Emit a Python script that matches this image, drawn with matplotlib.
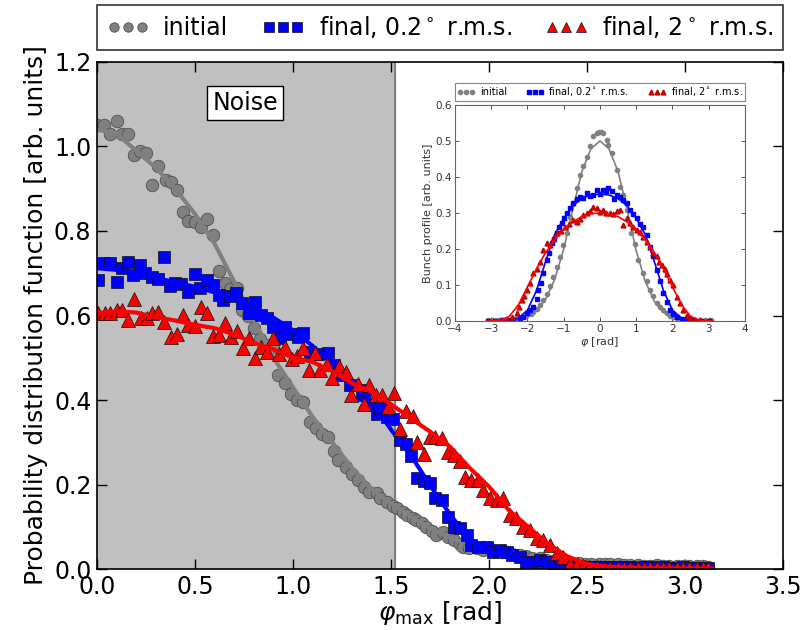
import matplotlib
matplotlib.use("Agg")
import matplotlib.pyplot as plt

# ---- main panel: distribution of phi_max ----
init_x = [0.0, 0.036, 0.066, 0.10, 0.126, 0.16, 0.19, 0.22, 0.25, 0.28, 0.31, 0.35, 0.376, 0.41,
          0.44, 0.465, 0.50, 0.53, 0.56, 0.59, 0.62, 0.653, 0.68, 0.713, 0.738, 0.77, 0.80, 0.83,
          0.865, 0.898, 0.925, 0.96, 0.99, 1.02, 1.05, 1.087, 1.12, 1.15, 1.18, 1.21, 1.23, 1.27,
          1.30, 1.33, 1.36, 1.39, 1.43, 1.444, 1.478, 1.51, 1.53, 1.56, 1.58, 1.61, 1.63, 1.66,
          1.68, 1.71, 1.73, 1.765, 1.79, 1.82, 1.85, 1.87, 1.90, 1.94, 1.97, 2.0, 2.03, 2.06,
          2.09, 2.12, 2.16, 2.19, 2.22, 2.26, 2.29, 2.32, 2.36, 2.39, 2.42, 2.46, 2.49, 2.52,
          2.56, 2.59, 2.62, 2.66, 2.69, 2.72, 2.76, 2.79, 2.82, 2.86, 2.89, 2.92, 2.96, 2.99,
          3.02, 3.06, 3.09, 3.12]
init_y = [1.05, 1.05, 1.03, 1.06, 1.03, 1.03, 0.98, 0.99, 0.985, 0.91, 0.955, 0.92, 0.917, 0.897,
          0.845, 0.824, 0.822, 0.81, 0.828, 0.79, 0.705, 0.677, 0.663, 0.665, 0.613, 0.60, 0.57,
          0.544, 0.53, 0.526, 0.46, 0.44, 0.415, 0.40, 0.396, 0.349, 0.333, 0.32, 0.313, 0.28,
          0.258, 0.242, 0.225, 0.21, 0.195, 0.183, 0.18, 0.168, 0.159, 0.15, 0.144, 0.135, 0.128,
          0.12, 0.116, 0.108, 0.10, 0.09, 0.08, 0.088, 0.075, 0.069, 0.06, 0.053, 0.05, 0.049,
          0.046, 0.049, 0.042, 0.04, 0.041, 0.036, 0.033, 0.03, 0.027, 0.025, 0.022, 0.02, 0.018,
          0.017, 0.015, 0.014, 0.013, 0.012, 0.013, 0.012, 0.011, 0.012, 0.01, 0.009, 0.01, 0.008,
          0.008, 0.009, 0.007, 0.007, 0.008, 0.006, 0.007, 0.006, 0.006, 0.005]

fin02_x = [0.007, 0.03, 0.066, 0.10, 0.126, 0.16, 0.185, 0.22, 0.245, 0.28, 0.31, 0.34, 0.37, 0.40,
           0.43, 0.465, 0.50, 0.525, 0.56, 0.59, 0.62, 0.645, 0.68, 0.71, 0.74, 0.777, 0.806, 0.835,
           0.866, 0.90, 0.934, 0.96, 0.99, 1.027, 1.05, 1.087, 1.13, 1.18, 1.21, 1.25, 1.29, 1.35,
           1.37, 1.39, 1.43, 1.444, 1.478, 1.51, 1.546, 1.575, 1.60, 1.635, 1.667, 1.70, 1.727,
           1.76, 1.79, 1.82, 1.85, 1.886, 1.91, 1.945, 1.99, 2.02, 2.056, 2.09, 2.12, 2.16, 2.19,
           2.226, 2.26, 2.29, 2.33, 2.36, 2.39, 2.42, 2.46, 2.49, 2.52, 2.56, 2.59, 2.62, 2.66,
           2.69, 2.72, 2.76, 2.79, 2.82, 2.86, 2.89, 2.92, 2.96, 2.99, 3.02, 3.06, 3.09, 3.12]
fin02_y = [0.684, 0.724, 0.724, 0.68, 0.712, 0.727, 0.696, 0.72, 0.70, 0.69, 0.686, 0.738, 0.67,
           0.677, 0.675, 0.656, 0.698, 0.665, 0.684, 0.672, 0.649, 0.637, 0.645, 0.653, 0.629, 0.607,
           0.633, 0.601, 0.593, 0.573, 0.547, 0.573, 0.556, 0.55, 0.558, 0.514, 0.51, 0.512, 0.483,
           0.459, 0.435, 0.412, 0.424, 0.388, 0.368, 0.38, 0.36, 0.355, 0.305, 0.297, 0.268, 0.216,
           0.209, 0.203, 0.167, 0.163, 0.124, 0.10, 0.096, 0.08, 0.057, 0.053, 0.053, 0.041, 0.045,
           0.041, 0.033, 0.029, 0.017, 0.017, 0.021, 0.017, 0.009, 0.013, 0.008, 0.006, 0.007,
           0.005, 0.005, 0.004, 0.005, 0.004, 0.004, 0.005, 0.004, 0.003, 0.004, 0.004, 0.003,
           0.004, 0.003, 0.003, 0.004, 0.003, 0.003, 0.003, 0.003]

fin2_x = [0.007, 0.04, 0.066, 0.10, 0.126, 0.16, 0.19, 0.224, 0.253, 0.28, 0.313, 0.343, 0.378,
          0.406, 0.437, 0.466, 0.50, 0.53, 0.56, 0.59, 0.622, 0.653, 0.684, 0.716, 0.746, 0.776,
          0.806, 0.837, 0.869, 0.90, 0.929, 0.96, 0.993, 1.02, 1.05, 1.08, 1.11, 1.14, 1.175, 1.20,
          1.236, 1.27, 1.296, 1.33, 1.36, 1.39, 1.424, 1.456, 1.486, 1.517, 1.546, 1.575, 1.61,
          1.634, 1.667, 1.70, 1.727, 1.761, 1.79, 1.82, 1.85, 1.88, 1.91, 1.945, 1.97, 2.005,
          2.04, 2.07, 2.107, 2.14, 2.175, 2.21, 2.243, 2.277, 2.31, 2.345, 2.38, 2.413, 2.447,
          2.48, 2.51, 2.55, 2.59, 2.62, 2.66, 2.69, 2.72, 2.76, 2.79, 2.82, 2.86, 2.89, 2.92,
          2.96, 2.99, 3.02, 3.06, 3.09, 3.12]
fin2_y = [0.605, 0.605, 0.607, 0.613, 0.612, 0.589, 0.638, 0.593, 0.595, 0.607, 0.608, 0.585, 0.55,
          0.557, 0.601, 0.577, 0.575, 0.619, 0.607, 0.551, 0.554, 0.583, 0.548, 0.564, 0.522, 0.546,
          0.50, 0.525, 0.514, 0.546, 0.51, 0.526, 0.497, 0.505, 0.522, 0.471, 0.512, 0.47, 0.486,
          0.451, 0.48, 0.467, 0.412, 0.439, 0.39, 0.435, 0.412, 0.412, 0.383, 0.416, 0.331, 0.375,
          0.361, 0.301, 0.272, 0.313, 0.313, 0.31, 0.278, 0.27, 0.256, 0.218, 0.211, 0.211, 0.187,
          0.167, 0.163, 0.167, 0.128, 0.12, 0.10, 0.092, 0.073, 0.069, 0.057, 0.037, 0.029, 0.013,
          0.013, 0.008, 0.005, 0.004, 0.003, 0.003, 0.002, 0.003, 0.002, 0.002, 0.003, 0.002,
          0.002, 0.002, 0.002, 0.002, 0.002, 0.002, 0.002, 0.002, 0.002]

fit_x = [0.0, 0.1, 0.2, 0.3, 0.4, 0.5, 0.6, 0.7, 0.8, 0.9, 1.0, 1.1, 1.2, 1.3, 1.4, 1.5, 1.6, 1.7,
         1.8, 1.9, 2.0, 2.1, 2.2, 2.3, 2.4, 2.5, 2.6, 2.8, 3.0, 3.14]
fit_init = [1.04, 1.03, 0.99, 0.95, 0.90, 0.84, 0.77, 0.68, 0.59, 0.50, 0.43, 0.36, 0.30, 0.24,
            0.19, 0.155, 0.125, 0.097, 0.075, 0.058, 0.046, 0.036, 0.028, 0.022, 0.017, 0.013,
            0.01, 0.007, 0.005, 0.004]
fit_02 = [0.712, 0.708, 0.70, 0.69, 0.678, 0.668, 0.655, 0.64, 0.62, 0.595, 0.565, 0.528, 0.487,
          0.447, 0.398, 0.33, 0.27, 0.198, 0.13, 0.07, 0.04, 0.028, 0.018, 0.009, 0.006, 0.004,
          0.003, 0.002, 0.001, 0.001]
fit_2 = [0.605, 0.61, 0.607, 0.596, 0.588, 0.578, 0.57, 0.555, 0.535, 0.52, 0.50, 0.49, 0.468,
         0.44, 0.42, 0.39, 0.357, 0.325, 0.29, 0.24, 0.195, 0.14, 0.10, 0.06, 0.03, 0.012, 0.005,
         0.002, 0.001, 0.001]

noise_edge = 1.52

# ---- inset: bunch profiles ----
in_init_x = [-3.1, -2.95, -2.8, -2.65, -2.5, -2.35, -2.2, -2.05, -1.9, -1.84, -1.75, -1.66, -1.56,
             -1.47, -1.38, -1.29, -1.195, -1.1, -1.01, -0.92, -0.83, -0.74, -0.64, -0.55, -0.46,
             -0.37, -0.28, -0.18, -0.09, -0.04, 0.04, 0.09, 0.185, 0.23, 0.32, 0.46, 0.55, 0.64,
             0.74, 0.87, 0.96, 1.06, 1.195, 1.29, 1.38, 1.47, 1.56, 1.66, 1.75, 1.84, 1.93, 2.02,
             2.12, 2.3, 2.45, 2.6, 2.75, 2.9, 3.05]
in_init_y = [0.002, 0.002, 0.003, 0.003, 0.004, 0.005, 0.008, 0.013, 0.02, 0.026, 0.032, 0.045,
             0.058, 0.076, 0.097, 0.122, 0.15, 0.178, 0.21, 0.245, 0.29, 0.325, 0.368, 0.405, 0.43,
             0.456, 0.485, 0.515, 0.522, 0.526, 0.524, 0.521, 0.503, 0.49, 0.466, 0.42, 0.373, 0.35,
             0.308, 0.244, 0.215, 0.17, 0.132, 0.11, 0.086, 0.07, 0.049, 0.04, 0.03, 0.021, 0.015,
             0.011, 0.007, 0.005, 0.004, 0.003, 0.003, 0.002, 0.002]

in_fin02_x = [-3.1, -2.9, -2.7, -2.5, -2.39, -2.2, -2.12, -2.02, -1.93, -1.84, -1.75, -1.70, -1.62,
              -1.56, -1.47, -1.40, -1.33, -1.26, -1.19, -1.12, -1.06, -0.99, -0.92, -0.83, -0.74,
              -0.64, -0.55, -0.46, -0.37, -0.28, -0.18, -0.09, 0.0, 0.09, 0.16, 0.23, 0.32, 0.39,
              0.46, 0.55, 0.64, 0.74, 0.83, 0.92, 1.01, 1.1, 1.195, 1.29, 1.38, 1.47, 1.56, 1.66,
              1.75, 1.84, 1.93, 2.02, 2.12, 2.25, 2.39, 2.6, 2.8, 3.0]
in_fin02_y = [0.001, 0.001, 0.002, 0.003, 0.004, 0.008, 0.012, 0.022, 0.03, 0.04, 0.06, 0.086,
              0.105, 0.132, 0.17, 0.188, 0.216, 0.228, 0.244, 0.26, 0.271, 0.285, 0.30, 0.315,
              0.327, 0.338, 0.345, 0.342, 0.355, 0.348, 0.35, 0.364, 0.352, 0.364, 0.36, 0.369,
              0.362, 0.34, 0.35, 0.343, 0.336, 0.328, 0.308, 0.298, 0.285, 0.27, 0.262, 0.24, 0.206,
              0.18, 0.142, 0.112, 0.077, 0.052, 0.031, 0.02, 0.012, 0.006, 0.003, 0.002, 0.001,
              0.001]

in_fin2_x = [-3.1, -2.9, -2.7, -2.57, -2.43, -2.30, -2.23, -2.16, -2.09, -2.02, -1.93, -1.84,
             -1.75, -1.66, -1.56, -1.47, -1.38, -1.29, -1.19, -1.08, -0.97, -0.86, -0.74, -0.64,
             -0.55, -0.46, -0.37, -0.28, -0.18, -0.09, 0.0, 0.09, 0.18, 0.28, 0.37, 0.46, 0.55,
             0.64, 0.74, 0.83, 0.92, 1.01, 1.1, 1.195, 1.29, 1.38, 1.47, 1.56, 1.63, 1.70, 1.79,
             1.86, 1.93, 2.02, 2.12, 2.21, 2.30, 2.39, 2.48, 2.62, 2.76, 2.95]
in_fin2_y = [0.001, 0.001, 0.002, 0.003, 0.01, 0.021, 0.04, 0.058, 0.07, 0.086, 0.105, 0.132,
             0.145, 0.165, 0.197, 0.216, 0.21, 0.228, 0.244, 0.25, 0.262, 0.268, 0.28, 0.275,
             0.282, 0.294, 0.3, 0.306, 0.317, 0.313, 0.302, 0.308, 0.3, 0.299, 0.296, 0.305,
             0.308, 0.267, 0.286, 0.271, 0.262, 0.253, 0.248, 0.234, 0.218, 0.206, 0.188, 0.18,
             0.163, 0.156, 0.144, 0.13, 0.114, 0.1, 0.068, 0.05, 0.031, 0.018, 0.008, 0.004,
             0.003, 0.001]

in_fit_x = [-3.1, -2.75, -2.5, -2.25, -2.0, -1.75, -1.5, -1.25, -1.0, -0.75, -0.5, -0.25, 0.0,
            0.25, 0.5, 0.75, 1.0, 1.25, 1.5, 1.75, 2.0, 2.25, 2.5, 2.75, 3.1]
in_fit_init = [0.0, 0.001, 0.002, 0.004, 0.01, 0.028, 0.06, 0.115, 0.2, 0.31, 0.415, 0.478,
               0.50, 0.478, 0.415, 0.31, 0.195, 0.11, 0.055, 0.024, 0.009, 0.003, 0.001, 0.0, 0.0]
in_fit_02 = [0.0, 0.001, 0.002, 0.008, 0.03, 0.085, 0.165, 0.24, 0.285, 0.32, 0.34, 0.35, 0.352,
             0.35, 0.34, 0.32, 0.285, 0.24, 0.165, 0.085, 0.03, 0.008, 0.002, 0.001, 0.0]
in_fit_2 = [0.0, 0.002, 0.013, 0.045, 0.095, 0.145, 0.19, 0.225, 0.255, 0.275, 0.29, 0.298, 0.30,
            0.298, 0.29, 0.275, 0.255, 0.225, 0.19, 0.145, 0.095, 0.045, 0.013, 0.002, 0.0]

labels = ["initial", r"final, 0.2$^\circ$ r.m.s.", r"final, 2$^\circ$ r.m.s."]
grey = "#808080"

fig = plt.figure(figsize=(8.03, 6.30), dpi=100)
ax = fig.add_axes([0.1208, 0.0968, 0.8542, 0.8048])

ax.axvspan(0, noise_edge, color="#c0c0c0", zorder=0)
ax.axvline(noise_edge, color="#707070", lw=1.2, zorder=0.5)

h1, = ax.plot(init_x, init_y, "o", ms=9, mfc=grey, mec="#505050", mew=0.6, label=labels[0])
ax.plot(fit_x, fit_init, "-", color=grey, lw=3)
h2, = ax.plot(fin02_x, fin02_y, "s", ms=9, mfc="blue", mec="#101010", mew=0.5, label=labels[1])
ax.plot(fit_x, fit_02, "-", color="blue", lw=3)
h3, = ax.plot(fin2_x, fin2_y, "^", ms=10, mfc="red", mec="#101010", mew=0.5, label=labels[2])
ax.plot(fit_x, fit_2, "-", color="red", lw=3)

ax.set_xlim(0, 3.5)
ax.set_ylim(0, 1.2)
ax.set_xticks([0.0, 0.5, 1.0, 1.5, 2.0, 2.5, 3.0, 3.5])
ax.set_yticks([0.0, 0.2, 0.4, 0.6, 0.8, 1.0, 1.2])
ax.set_xticklabels(["0.0", "0.5", "1.0", "1.5", "2.0", "2.5", "3.0", "3.5"])
ax.set_yticklabels(["0.0", "0.2", "0.4", "0.6", "0.8", "1.0", "1.2"])
ax.tick_params(direction="in", length=7, width=1, top=True, right=True, labelsize=17, pad=4)
for s in ax.spines.values():
    s.set_linewidth(1.2)
ax.set_xlabel(r"$\varphi_{\rm max}$ [rad]", fontsize=18, labelpad=0)
ax.set_ylabel("Probability distribution function [arb. units]", fontsize=18, labelpad=4)

ax.text(0.755, 1.103, "Noise", fontsize=17, ha="center", va="center",
        bbox=dict(boxstyle="square,pad=0.2", fc="white", ec="black", lw=1))

leg = ax.legend(handles=[h1, h2, h3], loc="lower left", bbox_to_anchor=(0, 1.024, 1, 0.09),
                mode="expand", ncol=3, numpoints=3, fontsize=17, borderaxespad=0,
                fancybox=False, markerscale=0.75, handlelength=1.8, handletextpad=0.6,
                columnspacing=0.8)
leg.get_frame().set_edgecolor("black")
leg.get_frame().set_linewidth(1.2)

# inset
axi = fig.add_axes([0.5666, 0.4905, 0.3611, 0.3429])
g1, = axi.plot(in_init_x, in_init_y, "o", ms=3, color=grey, mec=grey, label=labels[0])
axi.plot(in_fit_x, in_fit_init, "-", color=grey, lw=1.2)
g2, = axi.plot(in_fin02_x, in_fin02_y, "s", ms=3, color="blue", mec="blue", label=labels[1])
axi.plot(in_fit_x, in_fit_02, "-", color="blue", lw=1.2)
g3, = axi.plot(in_fin2_x, in_fin2_y, "^", ms=3.5, color="#e00000", mec="#c00000", label=labels[2])
axi.plot(in_fit_x, in_fit_2, "-", color="red", lw=1.2)

axi.set_xlim(-4, 4)
axi.set_ylim(0, 0.6)
axi.set_xticks([-4, -3, -2, -1, 0, 1, 2, 3, 4])
axi.set_xticklabels(["\u22124", "\u22123", "\u22122", "\u22121", "0", "1", "2", "3", "4"])
axi.set_yticks([0.0, 0.1, 0.2, 0.3, 0.4, 0.5, 0.6])
axi.set_yticklabels(["0.0", "0.1", "0.2", "0.3", "0.4", "0.5", "0.6"])
axi.tick_params(direction="in", length=3, width=0.6, top=True, right=True, labelsize=7.5,
                colors="#333333", pad=2)
for s in axi.spines.values():
    s.set_linewidth(0.8)
    s.set_color("#666666")
axi.set_xlabel(r"$\varphi$ [rad]", fontsize=8, labelpad=1, color="#333333")
axi.set_ylabel("Bunch profile [arb. units]", fontsize=8, labelpad=2, color="#333333")

legi = axi.legend(handles=[g1, g2, g3], loc="lower left", bbox_to_anchor=(0, 1.02, 1, 0.08),
                  mode="expand", ncol=3, numpoints=3, fontsize=7, borderaxespad=0,
                  fancybox=False, handlelength=1.8, handletextpad=0.5, columnspacing=0.6,
                  borderpad=0.25)
legi.get_frame().set_edgecolor("#666666")
legi.get_frame().set_linewidth(0.8)

fig.savefig("out.png", dpi=100)
